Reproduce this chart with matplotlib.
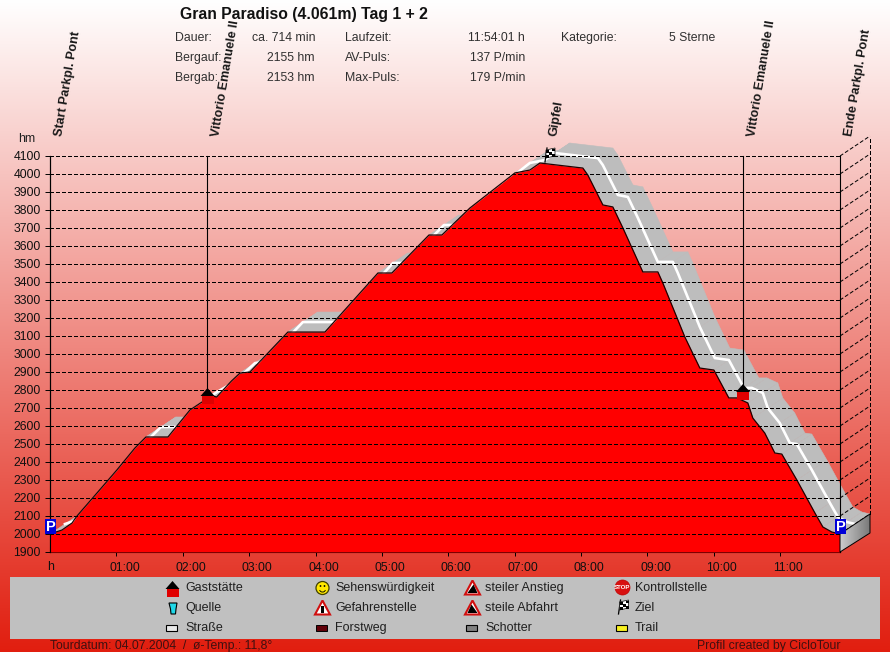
import numpy as np
import matplotlib
matplotlib.use("Agg")
import matplotlib.pyplot as plt
import matplotlib.transforms as mt
from matplotlib.collections import PolyCollection
from matplotlib.patches import Polygon, Rectangle, Circle, Wedge

plt.rcParams['font.family'] = ['Liberation Sans', 'DejaVu Sans']

title = "Gran Paradiso (4.061m) Tag 1 + 2"
minutes = [0, 10.8, 19.9, 24.4, 42.5, 60.5, 76.8, 86.7, 104.8, 106.6, 126.5, 137.3, 147, 150.6, 164,
           171.7, 180.7, 215, 248.5, 296.4, 309, 342.5, 354.2, 379.5, 420.2, 433.7, 442.8, 481.6,
           486.1, 499.7, 508.7, 517.8, 535.8, 549.4, 553.9, 573.8, 587.3, 600, 613.5, 620.8, 630.7,
           635.2, 646, 655.1, 661.4, 675, 691.3, 698.5, 706.6, 714]
elevation = [2000, 2022, 2061, 2100, 2228, 2356, 2478, 2539, 2539, 2539, 2689, 2733, 2767, 2761, 2850,
             2894, 2900, 3122, 3122, 3450, 3450, 3661, 3661, 3811, 4006, 4022, 4061, 4033,
             3994, 3828, 3817, 3700, 3456, 3456, 3394, 3094, 2922, 2911, 2756, 2756, 2728,
             2644, 2561, 2450, 2444, 2300, 2117, 2039, 2011, 2000]
y_ticks = list(range(1900, 4101, 100))
x_ticks = [60, 120, 180, 240, 300, 360, 420, 480, 540, 600, 660]
x_labels = ["01:00", "02:00", "03:00", "04:00", "05:00", "06:00", "07:00", "08:00", "09:00", "10:00", "11:00"]
way_names = ["Start Parkpl. Pont", "Vittorio Emanuele II", "Gipfel", "Vittorio Emanuele II", "Ende Parkpl. Pont"]
way_times = [0, 142, 447, 626.5, 714]
way_stems = [1900, 2800, None, 2810, 1900]
info_rows = [["Dauer:", "ca. 714 min", "Laufzeit:", "11:54:01 h", "Kategorie:", "5 Sterne"],
             ["Bergauf:", "2155 hm", "AV-Puls:", "137 P/min"],
             ["Bergab:", "2153 hm", "Max-Puls:", "179 P/min"]]
legend_items = [["Gaststätte", "Quelle", "Straße"],
                ["Sehenswürdigkeit", "Gefahrenstelle", "Forstweg"],
                ["steiler Anstieg", "steile Abfahrt", "Schotter"],
                ["Kontrollstelle", "Ziel", "Trail"]]

W, H = 890, 652
fig = plt.figure(figsize=(W / 100, H / 100), dpi=100)

# background gradient
bg = fig.add_axes([0, 0, 1, 1], zorder=0)
bg.axis("off")
t = np.linspace(0, 1, 652)[:, None, None]
top = np.array([1.0, 1.0, 1.0])
bot = np.array([225, 30, 15]) / 255
bg.imshow(top + (bot - top) * t, aspect="auto", extent=[0, W, H, 0], interpolation="bilinear")
bg.set_xlim(0, W)
bg.set_ylim(H, 0)

# chart axes: x 50..840 px, y 156..552 px
L, R, T, B = 50, 840, 156, 552
ax = fig.add_axes([L / W, 1 - B / H, (R - L) / W, (B - T) / H], zorder=1)
ax.patch.set_alpha(0)
ax.set_xlim(0, 714)
ax.set_ylim(1900, 4100)
px_x = 714 / (R - L)
px_y = 2200 / (B - T)
DX, DY = 30 * px_x, 20 * px_y
for s in ["top", "right"]:
    ax.spines[s].set_visible(False)
for s in ["left", "bottom"]:
    ax.spines[s].set_linewidth(0.8)
ax.set_yticks(y_ticks)
ax.set_yticklabels([str(v) for v in y_ticks], fontsize=8.8, color="#101010")
ax.tick_params(axis="y", length=3.6, width=0.7, pad=3)
ax.set_xticks(x_ticks)
ax.set_xticklabels(x_labels, fontsize=8.8, color="#101010")
ax.tick_params(axis="x", length=3, width=0.7, pad=4)
shift = mt.ScaledTranslation(8 / 100, 0, fig.dpi_scale_trans)
for lab in ax.get_xticklabels():
    lab.set_transform(lab.get_transform() + shift)

tm = np.array(minutes, float)
el = np.array(elevation, float)

# ribbon sweep
quads = []
for i in range(len(tm) - 1):
    quads.append([(tm[i], el[i]), (tm[i + 1], el[i + 1]),
                  (tm[i + 1] + DX, el[i + 1] + DY), (tm[i] + DX, el[i] + DY)])
ax.add_collection(PolyCollection(quads, facecolors="#bdbdbd", edgecolors="#bdbdbd", linewidths=0.4,
                                 zorder=2, clip_on=False))
ax.plot(tm + DX / 2, el + DY / 2, color="white", lw=1.9, zorder=3, clip_on=False, solid_joinstyle="round")
ax.fill_between(tm, 1900, el, color="#ff0000", lw=0, zorder=4)
ax.plot(tm, el, color="#200000", lw=0.9, zorder=5)

# grid and wall
dash = (0, (3.9, 2.1))
for v in y_ticks[1:]:
    ax.plot([0, 714], [v, v], color="black", lw=0.72, ls=dash, zorder=6, antialiased=False)
    ax.plot([714, 714 + DX], [v, v + DY], color="black", lw=0.72, ls=dash, zorder=6, clip_on=False)
ax.plot([714 + DX, 714 + DX], [2000 + DY, 4100 + DY], color="black", lw=0.72, ls=dash, zorder=6,
        clip_on=False, antialiased=False)

# waypoint stems and labels
for tw, end in zip(way_times, way_stems):
    if end is not None:
        ax.plot([tw, tw], [end, 4100], color="black", lw=0.8, zorder=7, clip_on=False)
for name, tw in zip(way_names, way_times):
    ax.annotate(name, xy=(tw, 4100), xytext=(15 * 0.72, 19 * 0.72), textcoords="offset points",
                rotation=80.5, rotation_mode="anchor", ha="left", va="bottom", fontsize=9.1,
                fontweight="bold", color="#181818", zorder=9, annotation_clip=False)

# overlay in pixel coordinates
ov = fig.add_axes([0, 0, 1, 1], zorder=3)
ov.axis("off")
ov.patch.set_alpha(0)

# side face of the block
gx = np.linspace(0.80, 0.48, 32)[None, :, None].repeat(3, axis=2)
im = ov.imshow(gx, extent=[840, 870, 552, 513], aspect="auto", zorder=1)
ov.set_xlim(0, W)
ov.set_ylim(H, 0)
face = Polygon([(840, 534), (870, 514), (870, 533), (840, 552)], closed=True, fc="none", ec="black", lw=0.7, zorder=2)
ov.add_patch(face)
im.set_clip_path(face)


def txt(x, y, s, **kw):
    kw.setdefault("fontsize", 9.0)
    kw.setdefault("color", "#1c1c1c")
    kw.setdefault("va", "center")
    ov.text(x, y, s, **kw)


def house(cx, cy):
    ov.add_patch(Rectangle((cx - 6, cy), 12, 8, fc="#e00000", ec="none", zorder=5))
    ov.add_patch(Polygon([(cx - 7, cy), (cx + 7, cy), (cx, cy - 8)], fc="black", ec="none", zorder=5))


def park(cx, ytop, ybot):
    ov.add_patch(Rectangle((cx - 5.5, ytop), 11, ybot - ytop, fc="#0000d8", ec="none", zorder=5))
    txt(cx, (ytop + ybot) / 2 + 0.5, "P", color="white", fontsize=10.5, fontweight="bold", ha="center", zorder=6)


def flag(cx, cy):
    ov.plot([cx - 4, cx - 2], [cy + 7, cy - 7], color="black", lw=0.9, zorder=6)
    ov.add_patch(Polygon([(cx - 3, cy - 5), (cx + 6, cy - 7), (cx + 6, cy + 1), (cx - 3, cy + 3)],
                         fc="white", ec="black", lw=0.5, zorder=6))
    for i in range(3):
        for j in range(3):
            if (i + j) % 2 == 0:
                x0 = cx - 3 + 3 * i
                y0 = cy - 5 - 0.66 * i + 2.7 * j
                ov.add_patch(Rectangle((x0, y0), 3, 2.7, fc="black", ec="none", zorder=7))


def warn(cx, cy, mode):
    ov.add_patch(Polygon([(cx - 7.5, cy + 7), (cx + 7.5, cy + 7), (cx, cy - 7)],
                         fc="white", ec="#d01010", lw=1.5, zorder=5))
    if mode == "!":
        ov.add_patch(Rectangle((cx - 1.2, cy - 2), 2.4, 5, fc="black", ec="none", zorder=6))
        ov.add_patch(Rectangle((cx - 1.2, cy + 3.8), 2.4, 1.8, fc="black", ec="none", zorder=6))
    elif mode == "up":
        ov.add_patch(Polygon([(cx - 5, cy + 5.5), (cx + 5, cy + 5.5), (cx + 1, cy - 3)], fc="black", zorder=6))
    else:
        ov.add_patch(Polygon([(cx - 5, cy + 5.5), (cx + 5, cy + 5.5), (cx - 1, cy - 3)], fc="black", zorder=6))


# title and info
txt(180, 14, title, fontsize=11.3, fontweight="bold", color="#111111")
cols = [(175, "left"), (315, "right"), (345, "left"), (525, "right"), (561, "left"), (715, "right")]
for ry, row in zip([38, 58, 78], info_rows):
    for (cx, ha), s in zip(cols, row):
        txt(cx, ry, s, ha=ha, color="#303030", fontsize=8.8)
txt(18, 139, "hm", color="#202020", fontsize=8.8)
txt(51, 567, "h", ha="center", color="#101010", fontsize=8.8)

# markers on the profile
park(50.5, 519, 534)
park(840.5, 519, 534)
house(207.5, 396)
house(743, 392)
flag(549, 155)

# legend panel
ov.add_patch(Rectangle((10, 577), 870, 62, fc="#c0c0c0", ec="none", zorder=2))
col_text = [185, 335, 485, 635]
row_y = [588, 608, 628]
for ct, items in zip(col_text, legend_items):
    for ry, s in zip(row_y, items):
        txt(ct, ry, s, color="#202020", zorder=5)
house(172.5, 589)
ov.add_patch(Polygon([(169, 603), (177, 603), (176, 609), (175.5, 614), (171, 614), (170.5, 609)],
                     fc="#20d8e8", ec="black", lw=0.8, zorder=5))
ov.add_patch(Rectangle((165.5, 625), 11.5, 6, fc="#e8e8e8", ec="black", lw=0.8, zorder=5))
ov.add_patch(Circle((322.5, 588), 6.5, fc="#ffe800", ec="#404000", lw=0.9, zorder=5))
ov.add_patch(Circle((320.5, 586), 0.9, fc="black", zorder=6))
ov.add_patch(Circle((324.5, 586), 0.9, fc="black", zorder=6))
ov.add_patch(Wedge((322.5, 589), 3.5, 20, 160, width=0.9, fc="black", zorder=6))
warn(322.5, 607.5, "!")
ov.add_patch(Rectangle((315.5, 625), 11.5, 5.5, fc="#600008", ec="black", lw=0.7, zorder=5))
warn(472.5, 587.5, "up")
warn(472.5, 607.5, "down")
ov.add_patch(Rectangle((465.5, 625), 11.5, 6, fc="#808080", ec="black", lw=0.8, zorder=5))
ov.add_patch(Circle((622.5, 587.5), 7.5, fc="#d81010", ec="#c00000", lw=0.5, zorder=5))
txt(622.5, 587.5, "STOP", color="white", fontsize=4.4, fontweight="bold", ha="center", zorder=6)
flag(622.5, 607)
ov.add_patch(Rectangle((615.5, 625), 11.5, 5.5, fc="#f8f020", ec="black", lw=0.8, zorder=5))

# footer
txt(50, 646, "Tourdatum: 04.07.2004  /  ø-Temp.: 11,8°", color="#401010", fontsize=8.85)
txt(697, 646, "Profil created by CicloTour", color="#401010", fontsize=8.8)

fig.savefig("out.png", dpi=100)
